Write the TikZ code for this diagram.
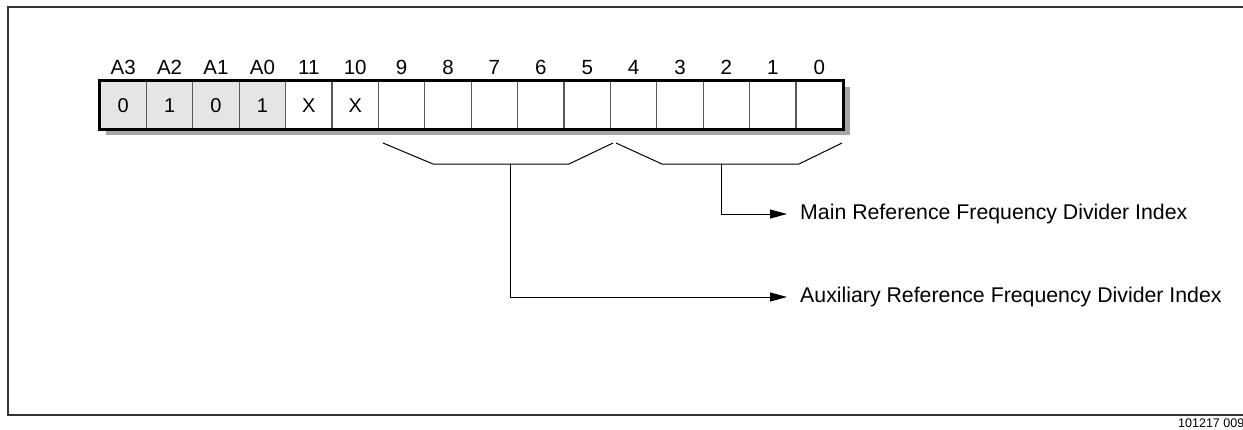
\documentclass[tikz,border=0pt]{standalone}
\usepackage{fontspec}
\setmainfont{Liberation Sans}
\usetikzlibrary{arrows.meta}
\begin{document}
\begin{tikzpicture}[x=1pt,y=-1pt,
  frame/.style={draw=black!80, line width=2pt},
  cell/.style={draw=black!65, fill=white, line width=1.2pt, minimum width=46.4pt, minimum height=48pt,
    inner sep=0pt, anchor=center},
  addr/.style={cell, fill=black!10},
  celltext/.style={font=\fontsize{20}{24}\selectfont, inner sep=0pt, anchor=base},
  bitlabel/.style={font=\fontsize{20.5}{24}\selectfont, inner sep=0pt, anchor=base},
  bracket/.style={draw=black, line width=1pt},
  pointer/.style={draw=black, line width=1pt, -{Triangle[length=17pt,width=9pt]}},
  caption/.style={font=\fontsize{21.3}{25}\selectfont, anchor=west, inner sep=0pt},
  tag/.style={font=\fontsize{12.5}{14}\selectfont, anchor=base west, inner sep=0pt}]
\useasboundingbox (0,0) rectangle (1243,429);

% open frame
\draw[frame] (1243,7) -| (8,415) -- (1243,415);

% drop shadow of the register
\fill[black!35] (106,87) rectangle (850,135);

% register cells, bit labels and contents
\foreach \lab/\val [count=\i from 0] in {A3/0,A2/1,A1/0,A0/1,11/X,10/X,9/,8/,7/,6/,5/,4/,3/,2/,1/,0/}{
  \pgfmathsetmacro{\cx}{100+23.2+46.4*\i}
  \ifnum\i<4
    \node[addr] (c\i) at (\cx,105) {};
  \else
    \node[cell] (c\i) at (\cx,105) {};
  \fi
  \node[celltext] (v\i) at (\cx,112) {\val};
  \node[bitlabel] (l\i) at (\cx,74) {\lab};
}
\draw[black, line width=3pt] (c0.north west) rectangle (c15.south east);

% brackets grouping bits 9..5 and 4..0
\coordinate (aux) at (510,164);
\coordinate (main) at (721,164);
\draw[bracket] (383,143) -- (433,164) -- (569,164) -- (613,143);
\draw[bracket] (616,143) -- (662,164) -- (799,164) -- (842,143);

% captions and pointers
\node[caption] (mtxt) at (800,214) {Main Reference Frequency Divider Index};
\node[caption] (atxt) at (800,297) {Auxiliary Reference Frequency Divider Index};
\draw[pointer, shorten >=13pt] (main) |- (mtxt.west);
\draw[pointer, shorten >=13pt] (aux) |- (atxt.west);

% figure tag
\node[tag] (fig) at (1178,427) {101217 009};
\end{tikzpicture}
\end{document}
